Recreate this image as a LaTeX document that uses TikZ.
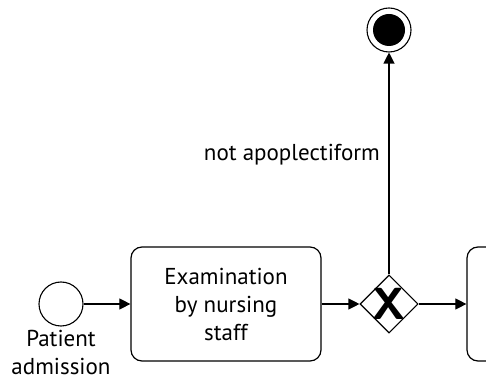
\documentclass[tikz,border=0pt]{standalone}
\usepackage{fontspec}
\setmainfont{PT Sans}
\usetikzlibrary{arrows.meta,shapes.geometric}
\begin{document}
\begin{tikzpicture}[x=1pt,y=1pt,
  flow/.style={line width=1.1pt,-{Triangle[length=11pt,width=11pt]}},
  taskbox/.style={draw,line width=1.2pt,rounded corners=11pt,minimum width=190pt,minimum height=114pt,align=center,font=\fontsize{23}{28}\selectfont,inner sep=0pt},
  evt/.style={draw,circle,line width=1.1pt,minimum size=44pt,inner sep=0pt},
  gw/.style={draw,diamond,line width=1.1pt,minimum width=58pt,minimum height=58pt,inner sep=0pt,aspect=1},
  lbl/.style={font=\fontsize{23}{28.5}\selectfont,align=center,inner sep=0pt}]
\useasboundingbox (0,0) rectangle (486,382);
\clip (0,0) rectangle (486,382);
\node[evt] (start) at (61,78) {};
\node[lbl,anchor=north] (startlbl) at (61,52) {Patient\\admission};
\node[taskbox] (exam) at (226,78) {Examination\\by nursing\\staff};
\node[gw] (gate) at (389,78) {};
\node[font=\sffamily\bfseries\fontsize{45}{45}\selectfont,inner sep=0pt] (gx) at (389,78) {X};
\node[taskbox] (next) at (562,78) {};
\node[evt] (end) at (389,352) {};
\fill (end.center) circle (16pt);
\draw[flow] (start) -- (exam);
\draw[flow] (exam) -- (gate);
\draw[flow] (gate) -- (next);
\draw[flow] (gate) -- (end);
\node[lbl,anchor=east] (cond) at (380,227) {not apoplectiform};
\end{tikzpicture}
\end{document}
